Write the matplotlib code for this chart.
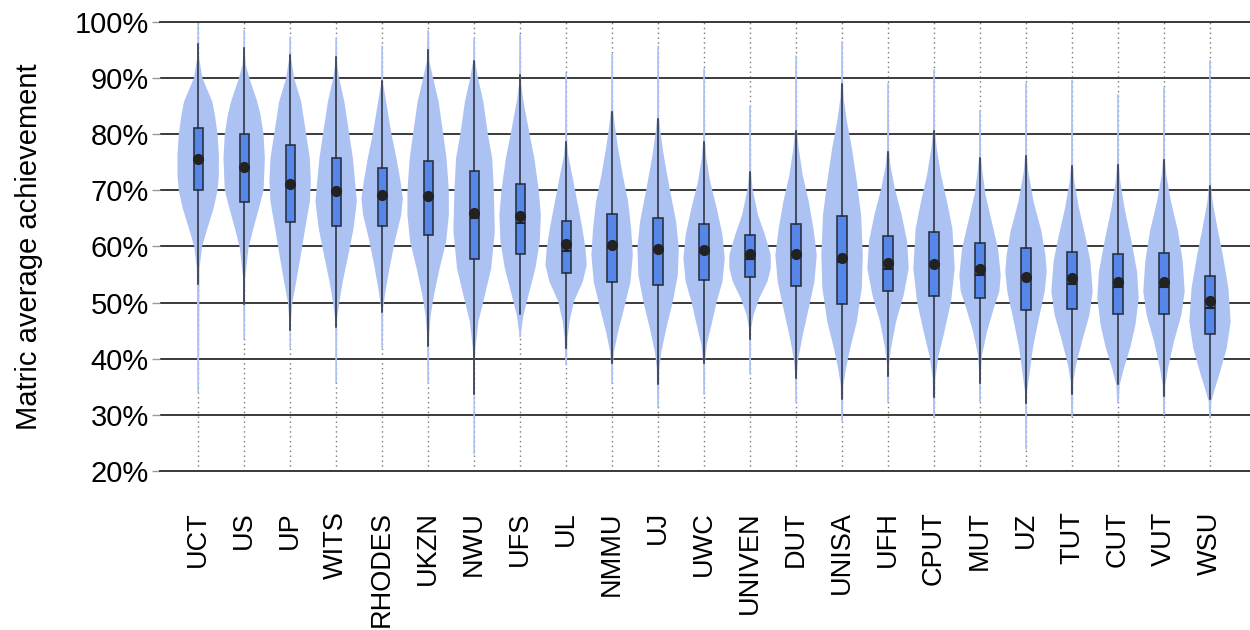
# Matric average achievement by university: violin + box plots

import matplotlib.pyplot as plt
from matplotlib.ticker import FuncFormatter

plt.rcParams['font.family'] = ['Liberation Sans', 'DejaVu Sans']

universities = ['UCT', 'US', 'UP', 'WITS', 'RHODES', 'UKZN', 'NWU', 'UFS', 'UL',
                'NMMU', 'UJ', 'UWC', 'UNIVEN', 'DUT', 'UNISA', 'UFH', 'CPUT', 'MUT',
                'UZ', 'TUT', 'CUT', 'VUT', 'WSU']

q1 = [70.1, 67.9, 64.3, 63.7, 63.6, 62.1, 57.7, 58.6, 55.2, 53.6, 53.1, 54.0,
      54.5, 53.0, 49.8, 52.0, 51.1, 50.8, 48.7, 48.9, 47.9, 47.9, 44.4]
q3 = [81.2, 80.0, 78.0, 75.8, 73.9, 75.2, 73.5, 71.2, 64.6, 65.7, 65.1, 64.0,
      62.1, 64.0, 65.4, 61.9, 62.6, 60.7, 59.8, 59.1, 58.6, 58.9, 54.8]
medians = [75.8, 74.0, 71.0, 69.5, 69.0, 68.8, 65.0, 64.1, 59.2, 59.8, 59.3, 59.0,
           57.8, 58.6, 57.2, 56.0, 56.7, 55.0, 54.3, 53.3, 52.7, 52.7, 49.0]
means = [75.5, 74.1, 71.2, 69.8, 69.2, 69.0, 65.9, 65.4, 60.5, 60.2, 59.5, 59.3,
         58.7, 58.7, 58.0, 57.0, 56.9, 56.0, 54.5, 54.3, 53.6, 53.7, 50.2]
whisk_lo = [53.3, 49.7, 45.2, 45.7, 48.4, 42.3, 33.8, 47.9, 42.0, 39.2, 35.5, 39.3,
            43.5, 36.5, 32.8, 36.9, 33.1, 35.7, 32.2, 33.7, 35.5, 33.4, 32.8]
whisk_hi = [96.0, 95.3, 94.1, 93.8, 89.5, 95.0, 93.1, 90.6, 78.7, 83.9, 82.7, 78.7,
            73.3, 80.6, 88.9, 76.9, 80.5, 75.7, 76.1, 74.3, 74.5, 75.4, 70.8]

# violin outlines: levels (%) and relative half-widths
violin_y = [
    [34.0, 56.1, 60.0, 63.2, 66.8, 70.0, 72.7, 76.3, 80.0, 83.4, 85.8, 90.0, 93.5, 99.8],
    [43.5, 54.3, 59.7, 63.2, 66.8, 70.0, 75.7, 80.0, 83.4, 85.8, 90.0, 92.3, 94.5, 98.6],
    [41.9, 46.6, 50.2, 53.7, 58.5, 63.2, 68.0, 71.6, 75.7, 80.0, 85.8, 90.0, 93.5, 97.4],
    [35.6, 47.2, 50.2, 53.7, 58.5, 63.2, 68.0, 70.0, 75.7, 80.0, 85.8, 90.0, 92.5, 97.2],
    [41.9, 49.0, 52.0, 56.1, 60.9, 65.6, 68.6, 71.6, 75.7, 80.0, 85.8, 89.0, 95.8],
    [35.5, 44.2, 47.8, 51.4, 56.1, 60.9, 65.6, 70.0, 75.7, 80.0, 85.8, 90.0, 93.0, 98.6],
    [23.0, 38.9, 41.9, 46.6, 51.4, 56.1, 62.7, 70.0, 75.7, 80.0, 85.8, 90.0, 93.0, 97.2],
    [43.8, 44.8, 47.8, 51.4, 56.1, 60.9, 65.6, 70.0, 75.7, 80.0, 85.8, 89.0, 97.8],
    [38.8, 43.6, 46.6, 50.2, 53.7, 56.7, 59.7, 63.2, 68.0, 72.7, 76.3, 78.5, 90.9],
    [35.6, 39.0, 41.3, 44.8, 49.0, 53.7, 58.5, 63.2, 68.0, 72.7, 77.5, 81.7, 84.5, 94.4],
    [31.3, 38.3, 41.3, 45.4, 50.2, 54.9, 59.7, 64.4, 70.4, 76.3, 80.5, 83.0, 95.8],
    [33.6, 39.5, 42.5, 46.0, 50.2, 53.7, 57.9, 62.1, 66.8, 71.6, 75.7, 78.5, 91.7],
    [37.2, 45.4, 47.8, 50.8, 53.7, 56.1, 58.5, 62.1, 65.6, 70.4, 73.0, 85.1],
    [32.1, 37.5, 40.1, 44.2, 49.0, 53.7, 58.5, 63.2, 68.0, 72.7, 77.5, 80.5, 94.0],
    [28.8, 35.3, 38.3, 41.9, 46.6, 52.6, 58.5, 65.6, 71.6, 77.5, 82.2, 86.4, 89.0, 96.6],
    [32.2, 38.9, 41.9, 46.6, 51.4, 56.1, 60.9, 65.6, 70.4, 74.5, 77.0, 89.1],
    [29.4, 36.5, 40.1, 44.8, 50.2, 56.1, 63.2, 68.0, 72.7, 77.5, 80.5, 91.6],
    [32.2, 38.0, 40.7, 44.8, 49.0, 52.0, 54.9, 59.7, 64.4, 69.2, 73.3, 75.7, 84.3],
    [23.8, 34.1, 37.1, 41.9, 46.6, 52.0, 55.5, 58.5, 62.7, 68.0, 73.3, 76.0, 89.1],
    [29.6, 36.0, 38.9, 43.1, 47.8, 52.0, 57.4, 62.1, 66.8, 71.6, 74.3, 89.7],
    [32.1, 35.3, 38.3, 41.9, 46.0, 50.8, 55.5, 60.9, 66.8, 71.6, 74.5, 87.1],
    [30.0, 35.3, 38.3, 43.1, 47.8, 52.0, 57.4, 62.7, 68.0, 72.7, 75.4, 88.3],
    [29.4, 32.4, 34.1, 37.1, 41.9, 46.6, 52.6, 58.5, 63.2, 68.0, 71.0, 93.2],
]
violin_w = [
    [2.5, 4, 12, 28, 47, 59, 63, 63, 59, 51, 43, 13, 3, 2.5],
    [2.5, 3, 13, 28, 45, 59, 63, 59, 50, 40, 16, 5, 2.5, 2.5],
    [2.5, 2, 7, 18, 32, 45, 59, 62, 59, 48, 33, 12, 3, 2.5],
    [2.5, 3, 10, 20, 37, 53, 63, 60, 51, 40, 25, 9, 3, 2.5],
    [2.5, 3, 10, 22, 38, 57, 62, 55, 43, 28, 12, 3, 2.5],
    [2.5, 3, 8, 18, 35, 55, 63, 63, 56, 46, 32, 15, 4, 2.5],
    [2.5, 2, 4, 13, 33, 52, 63, 60, 55, 42, 28, 12, 3, 2.5],
    [2.5, 3, 10, 25, 45, 58, 61, 55, 42, 28, 10, 3, 2.5],
    [2.5, 4, 10, 23, 49, 61, 57, 48, 33, 18, 6, 3, 2.5],
    [2.5, 3, 6, 18, 36, 55, 62, 57, 48, 32, 18, 8, 3, 2.5],
    [2.5, 4, 10, 25, 45, 60, 63, 55, 35, 17, 7, 3, 2.5],
    [2.5, 3, 8, 22, 38, 55, 62, 55, 38, 18, 7, 3, 2.5],
    [2.5, 3, 10, 27, 50, 60, 60, 43, 23, 7, 3, 2.5],
    [2.5, 3, 7, 20, 38, 55, 62, 52, 38, 20, 8, 3, 2.5],
    [2.5, 4, 12, 25, 45, 60, 63, 58, 45, 30, 15, 5, 3, 2.5],
    [2.5, 3, 9, 24, 47, 62, 57, 41, 20, 7, 3, 2.5],
    [2.5, 4, 12, 31, 51, 62, 55, 39, 21, 8, 3, 2.5],
    [2.5, 3, 6, 20, 40, 56, 60, 52, 34, 16, 7, 3, 2.5],
    [2.5, 3, 10, 21, 37, 57, 63, 59, 47, 23, 7, 3, 2.5],
    [2.5, 4, 12, 30, 52, 62, 55, 39, 21, 7, 3, 2.5],
    [2.5, 5, 18, 37, 53, 63, 58, 41, 20, 7, 3, 2.5],
    [2.5, 4, 12, 30, 52, 62, 56, 42, 21, 7, 3, 2.5],
    [2.5, 4, 12, 28, 51, 63, 56, 39, 23, 8, 3, 2.5],
]

pos = list(range(len(universities)))

fig = plt.figure(figsize=(12.5, 6.3), dpi=100)
ax = fig.add_axes([0.128, 0.2524, 0.872, 0.7127])

vstats = []
for i in pos:
    vstats.append(dict(coords=violin_y[i], vals=violin_w[i], mean=means[i],
                       median=medians[i], min=violin_y[i][0], max=violin_y[i][-1]))
vp = ax.violin(vstats, positions=pos, widths=0.9, showmeans=False,
               showextrema=False, showmedians=False)
for b in vp['bodies']:
    b.set_facecolor('#abc2f2')
    b.set_edgecolor('none')
    b.set_alpha(1)
    b.set_zorder(2)

bstats = []
for i in pos:
    bstats.append(dict(med=medians[i], q1=q1[i], q3=q3[i], whislo=whisk_lo[i],
                       whishi=whisk_hi[i], mean=means[i], fliers=[]))
ax.bxp(bstats, positions=pos, widths=0.2, patch_artist=True, showmeans=True,
       showcaps=False, showfliers=False,
       boxprops=dict(facecolor='#5586e8', edgecolor='#2b3245', linewidth=1.2, zorder=3),
       medianprops=dict(color='#1f2431', linewidth=1.5, zorder=4),
       whiskerprops=dict(color='#262b36', linewidth=1.1, zorder=3),
       meanprops=dict(marker='o', markerfacecolor='#222222', markeredgecolor='#222222',
                      markersize=7, zorder=5))

ax.set_xlim(-0.83, 22.87)
ax.set_ylim(20, 100)
ax.set_yticks(range(20, 101, 10))
ax.yaxis.set_major_formatter(FuncFormatter(lambda v, p: '%d%%' % v))
ax.set_xticks(pos)
ax.set_xticklabels(universities, rotation=90, fontsize=19.5, va='top', ha='center')

ax.set_axisbelow(True)
ax.yaxis.grid(True, color='#3a3a3a', linewidth=1.4)
ax.xaxis.grid(True, color='#777777', linewidth=1, linestyle=(0, (1, 2.5)))
for s in ['left', 'right']:
    ax.spines[s].set_visible(False)
for s in ['top', 'bottom']:
    ax.spines[s].set_color('#3a3a3a')
    ax.spines[s].set_linewidth(1.4)

ax.tick_params(axis='y', length=6, width=1, color='#999999', labelsize=21, pad=2)
ax.tick_params(axis='x', length=0, pad=29)

ax.set_ylabel('Matric average achievement', fontsize=21)
ax.yaxis.set_label_coords(-0.107, 0.5)

plt.savefig('out.png')
